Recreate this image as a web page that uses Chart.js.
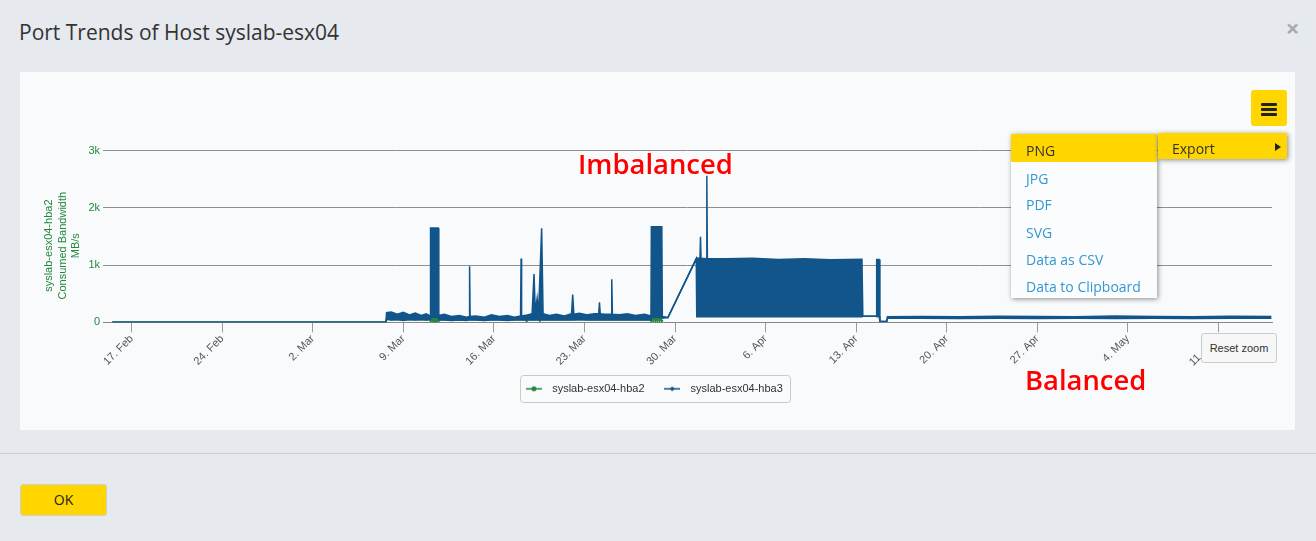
<!DOCTYPE html>
<html lang="en">
<head>
<meta charset="utf-8">
<title>Port Trends of Host syslab-esx04</title>
<script src="https://cdn.jsdelivr.net/npm/chart.js@4/dist/chart.umd.min.js"></script>
<style>
  html, body { margin: 0; padding: 0; }
  body {
    position: relative; width: 1316px; height: 541px; overflow: hidden;
    background: #e6e9ed; font-family: "Open Sans", sans-serif; color: #333;
  }
  .modal-title { position: absolute; left: 19px; top: 22px; font-size: 21px; line-height: 21px; white-space: nowrap; color: #333; }
  .modal-close { position: absolute; left: 1280px; top: 16px; width: 25px; font-size: 24px; line-height: 24px; font-weight: 700; text-align: center; color: #aaa; }
  .panel { position: absolute; left: 20px; top: 72px; width: 1275px; height: 358px; background: #f9fafc; }
  .chart-box { position: absolute; left: 20px; top: 72px; width: 1275px; height: 358px; }
  .note { position: absolute; font-size: 27.4px; line-height: 27px; font-weight: 600; color: #ff0000; white-space: nowrap; }
  .menu-btn { position: absolute; left: 1251px; top: 90px; width: 36px; height: 36px; background: #ffd600; border-radius: 3px; }
  .menu-btn span { position: absolute; left: 10px; width: 16px; height: 3px; background: #222; border-radius: 1px; }
  .menu { position: absolute; left: 1011px; top: 134px; width: 146px; background: #fbfcfd; box-shadow: 1px 1px 5px rgba(0,0,0,0.45); font-size: 14px; }
  .menu div { height: 27.4px; line-height: 27.4px; padding-left: 15px; color: #3597cf; }
  .menu div span { position: relative; top: 2.5px; }
  .menu div.hover { height: 28.4px; background: #ffd600; color: #333; }
  .menu div.next { height: 26.4px; }
  .submenu { position: absolute; left: 1158px; top: 133px; width: 129px; height: 26px; line-height: 26px; background: #ffd600; box-shadow: 1px 1px 5px rgba(0,0,0,0.45); font-size: 14px; color: #333; }
  .submenu .label { position: absolute; left: 14px; top: 2.5px; }
  .submenu .arrow { position: absolute; left: 117px; top: 10px; width: 0; height: 0; border-left: 6px solid #222; border-top: 4px solid transparent; border-bottom: 4px solid transparent; }
  .reset-zoom { position: absolute; left: 1201px; top: 333px; width: 76px; height: 30px; box-sizing: border-box; background: #f7f7f7; border: 1px solid #ccc; border-radius: 3px; font: 11px "Liberation Sans", Arial, sans-serif; line-height: 28px; text-align: center; color: #333; }
  .divider { position: absolute; left: 0; top: 453px; width: 1316px; height: 1px; background: #c9cdd2; }
  .ok-btn { position: absolute; left: 20px; top: 484px; width: 87px; height: 32px; box-sizing: border-box; background: #ffd600; border: 1px solid #cfd0cc; border-radius: 3px; font-size: 14px; line-height: 30px; text-align: center; color: #222; }
</style>
</head>
<body>
<div class="modal-title">Port Trends of Host syslab-esx04</div>
<div class="modal-close">×</div>
<div class="panel"></div>
<div class="chart-box"><canvas id="port-chart"></canvas></div>
<div class="note" style="left:578px; top:150px;">Imbalanced</div>
<div class="note" style="left:1025px; top:366px;">Balanced</div>
<div class="menu-btn"><span style="top:13px"></span><span style="top:18px"></span><span style="top:23px"></span></div>
<div class="menu">
  <div class="hover"><span>PNG</span></div>
  <div class="next"><span>JPG</span></div>
  <div><span>PDF</span></div>
  <div><span>SVG</span></div>
  <div><span>Data as CSV</span></div>
  <div><span>Data to Clipboard</span></div>
</div>
<div class="submenu"><span class="label">Export</span><span class="arrow"></span></div>
<div class="reset-zoom">Reset zoom</div>
<div class="divider"></div>
<div class="ok-btn">OK</div>

<script>
// x values are days counted from 17 Feb
const xMin = -2.22;
const xMax = 88.15;
const tickDays = [0, 7, 14, 21, 28, 35, 42, 49, 56, 63, 70, 77, 84];
const tickLabels = ['17. Feb', '24. Feb', '2. Mar', '9. Mar', '16. Mar', '23. Mar', '30. Mar',
    '6. Apr', '13. Apr', '20. Apr', '27. Apr', '4. May', '11. May'];

const yTickValues = [0, 1000, 2000, 3000];
const yTickLabels = ['0', '1k', '2k', '3k'];
const yTitleLines = ['syslab-esx04-hba2', 'Consumed Bandwidth', 'MB/s'];

// hba3 is very dense: kept as upper / lower envelope of each sample window
const hba3Days = [
    -1.5, 19.65, 19.7, 20.06, 20.53, 21.0, 21.46, 21.92, 22.38, 22.77, 23.06,
    23.1, 23.68, 23.74,
    24.16, 24.71, 25.33, 25.87, 26.08, 26.12, 26.16, 26.57, 27.27, 27.81, 28.43, 29.04, 29.58,
    30.06, 30.1, 30.14, 30.59, 30.95, 31.1, 31.2, 31.34, 31.45, 31.69, 31.8,
    32.29, 32.83, 33.45, 34.0, 34.09, 34.18, 34.61, 35.23, 35.77, 36.1, 36.16, 36.22, 36.55,
    37.06, 37.11, 37.16, 37.7, 38.32, 38.94, 39.64, 40.14,
    40.17, 40.98, 41.02, 41.45, 43.64,
    43.68, 43.93, 43.97, 44.01, 44.42, 44.46, 44.5, 46, 48, 50, 52, 54, 56.45,
    56.52, 57.55, 57.59, 57.78, 57.84, 58.37, 58.42,
    61, 64, 67, 70, 73, 76, 79, 82, 85, 88.1
];
const hba3Max = [
    0, 0, 170, 180, 140, 175, 130, 160, 120, 150, 110,
    1650, 1650, 120,
    140, 100, 120, 90, 100, 980, 100, 110, 90, 130, 100, 120, 90,
    110, 1117, 110, 130, 150, 842, 180, 420, 160, 1645, 150,
    120, 140, 110, 150, 485, 140, 160, 130, 150, 150, 350, 150, 140,
    140, 754, 140, 130, 150, 120, 140, 110,
    1672, 1672, 100, 82, 1110,
    1125, 1120, 1497, 1120, 1110, 2560, 1110, 1110, 1120, 1100, 1110, 1095, 1100,
    105, 105, 1100, 1100, 15, 15, 95,
    100, 95, 105, 100, 95, 110, 100, 95, 105, 100
];
const hba3Min = [
    0, 0, 60, 40, 50, 30, 50, 40, 50, 40, 50,
    90, 90, 40,
    40, 30, 40, 30, 40, 40, 40, 40, 30, 40, 40, 30, 40,
    40, 40, 40, 40, 40, 40, 40, 40, 40, 40, 40,
    40, 40, 40, 40, 40, 40, 50, 40, 40, 40, 40, 40, 40,
    40, 40, 40, 40, 40, 40, 40, 40,
    90, 90, 70, 82, 1110,
    95, 95, 95, 95, 95, 95, 95, 95, 98, 95, 98, 95, 98,
    105, 105, 100, 100, 15, 15, 70,
    70, 65, 70, 65, 70, 65, 70, 65, 70, 70
];

const hba2Days = [
    -1.5, 19.65, 19.7, 23.05,
    23.1, 23.15, 23.2, 23.25, 23.3, 23.35, 23.4, 23.45, 23.5, 23.55, 23.6, 23.65, 23.7,
    30.45, 30.5, 30.55, 31.5, 31.55, 31.6, 40.1,
    40.17, 40.25, 40.33, 40.41, 40.49, 40.57, 40.65, 40.73, 40.81, 40.89, 40.98, 41.05
];
const hba2Values = [
    0, 0, 45, 45,
    0, 90, 10, 95, 5, 90, 10, 85, 5, 95, 10, 90, 45,
    45, 20, 45, 45, 25, 45, 45,
    0, 110, 10, 120, 5, 110, 10, 115, 5, 100, 10, 45
];

const green = '#22883f';
const blue = '#12558a';

const toPoints = (xs, ys) => xs.map((x, i) => ({ x: x, y: ys[i] }));

// small line-with-marker icons for the legend
function legendIcon(color, marker) {
    const c = document.createElement('canvas');
    c.width = 16;
    c.height = 8;
    const g = c.getContext('2d');
    g.strokeStyle = color;
    g.lineWidth = 1.5;
    g.beginPath();
    g.moveTo(0, 4);
    g.lineTo(16, 4);
    g.stroke();
    g.fillStyle = color;
    g.beginPath();
    if (marker === 'diamond') {
        g.moveTo(8, 1.5); g.lineTo(10.5, 4); g.lineTo(8, 6.5); g.lineTo(5.5, 4);
    } else {
        g.arc(8, 4, 2.5, 0, Math.PI * 2);
    }
    g.fill();
    return c;
}

// thin rounded frame round the legend items
const legendFrame = {
    id: 'legendFrame',
    afterDraw(chart) {
        const boxes = chart.legend && chart.legend.legendHitBoxes;
        if (!boxes || !boxes.length) return;
        const first = boxes[0];
        const last = boxes[boxes.length - 1];
        const left = first.left - 1.5;
        const right = last.left + last.width + 6.5;
        const cy = first.top + first.height / 2;
        const ctx = chart.ctx;
        ctx.save();
        ctx.strokeStyle = '#c9c9c9';
        ctx.lineWidth = 1;
        ctx.beginPath();
        ctx.roundRect(Math.round(left) + 0.5, Math.round(cy - 13.5) + 0.5, Math.round(right - left), 27, 3);
        ctx.stroke();
        ctx.restore();
    }
};

Chart.defaults.font.family = '"Liberation Sans", Arial, sans-serif';
Chart.defaults.font.size = 11;

// the axis title sits a little below the middle of the plot, as in the original
const titlePad = '\u00a0'.repeat(6);

new Chart(document.getElementById('port-chart'), {
    type: 'line',
    data: {
        datasets: [
            {
                label: 'syslab-esx04-hba2',
                data: toPoints(hba2Days, hba2Values),
                borderColor: green,
                backgroundColor: green,
                borderWidth: 1.5,
                pointRadius: 0,
                pointStyle: legendIcon(green, 'circle'),
                fill: false,
                order: 3
            },
            {
                label: 'syslab-esx04-hba3',
                data: toPoints(hba3Days, hba3Max),
                borderColor: blue,
                backgroundColor: blue,
                borderWidth: 1.5,
                pointRadius: 0,
                pointStyle: legendIcon(blue, 'diamond'),
                fill: '+1',
                order: 1
            },
            {
                label: 'syslab-esx04-hba3 low',
                data: toPoints(hba3Days, hba3Min),
                borderColor: blue,
                backgroundColor: blue,
                borderWidth: 1.5,
                pointRadius: 0,
                fill: false,
                hideInLegend: true,
                order: 2
            }
        ]
    },
    options: {
        responsive: true,
        maintainAspectRatio: false,
        animation: false,
        events: [],
        layout: {
            padding: { left: 12, right: 23, top: 78.7, bottom: 25.7 }
        },
        scales: {
            x: {
                type: 'linear',
                min: xMin,
                max: xMax,
                afterBuildTicks: (scale) => {
                    scale.ticks = tickDays.map(v => ({ value: v }));
                },
                afterFit: (scale) => {
                    scale.height = 46;
                },
                ticks: {
                    autoSkip: false,
                    minRotation: 45,
                    maxRotation: 45,
                    padding: 0,
                    color: '#555',
                    callback: (value, index) => tickLabels[index]
                },
                grid: {
                    drawOnChartArea: false,
                    drawTicks: true,
                    tickLength: 10,
                    color: '#999'
                },
                border: { color: '#888' }
            },
            y: {
                min: 0,
                max: 3000,
                afterBuildTicks: (scale) => {
                    scale.ticks = yTickValues.map(v => ({ value: v }));
                },
                afterFit: (scale) => {
                    scale.width = 71;
                },
                ticks: {
                    padding: 3,
                    color: green,
                    callback: (value, index) => yTickLabels[index]
                },
                grid: { drawTicks: false, color: '#8f8f8f' },
                border: { display: false },
                title: {
                    display: true,
                    text: yTitleLines.map(t => t + titlePad),
                    color: green,
                    font: { size: 11, lineHeight: 1.25 },
                    padding: { top: 10, bottom: 0 }
                }
            }
        },
        plugins: {
            tooltip: { enabled: false },
            legend: {
                position: 'bottom',
                labels: {
                    usePointStyle: true,
                    pointStyleWidth: 25.5,
                    padding: 15,
                    color: '#333',
                    font: { size: 11 },
                    filter: (item, data) => !data.datasets[item.datasetIndex].hideInLegend,
                    sort: (a, b) => a.datasetIndex - b.datasetIndex
                }
            }
        }
    },
    plugins: [legendFrame]
});
</script>
</body>
</html>
